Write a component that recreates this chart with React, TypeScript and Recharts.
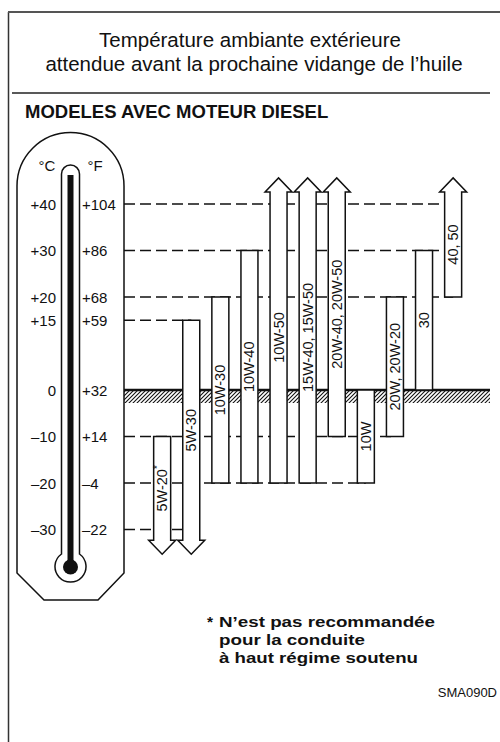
import { Bar, ComposedChart, ReferenceArea, ReferenceLine, XAxis, YAxis } from 'recharts';

// oil grades, left to right
const GRADES = [
  '5W-20*',
  '5W-30',
  '10W-30',
  '10W-40',
  '10W-50',
  '15W-40, 15W-50',
  '20W-40, 20W-50',
  '10W',
  '20W, 20W-20',
  '30',
  '40, 50',
];
// temperature range in °C, null = open ended (arrow)
const LOW_C: (number | null)[] = [null, null, -20, -20, -20, -20, -10, -20, -10, 0, 20];
const HIGH_C: (number | null)[] = [-10, 15, 20, 30, null, null, null, 0, 20, 30, null];

const C_TICKS = [40, 30, 20, 15, 0, -10, -20, -30];
const C_LABELS = ['+40', '+30', '+20', '+15', '0', '\u201310', '\u201320', '\u201330'];
const F_LABELS = ['+104', '+86', '+68', '+59', '+32', '+14', '\u20134', '\u201322'];

// dashed guides and the grade where each one stops
const GUIDE_C = [40, 30, 20, 15, -10, -20, -30];
const GUIDE_STOP = ['40, 50', '40, 50', '40, 50', '5W-30', '20W, 20W-20', '10W', '5W-30'];

const FONT = '"Liberation Sans", Arial, Helvetica, sans-serif';
const OPEN_LOW = -32.3;
const OPEN_HIGH = 42.6;
const X_MIN = -1.313;
const X_MAX = 11.265;
const MARGIN = { top: 157.5, right: 10, bottom: 166, left: 0 };

const rows = GRADES.map((grade, i) => ({
  idx: i,
  grade,
  range: [LOW_C[i] ?? OPEN_LOW, HIGH_C[i] ?? OPEN_HIGH],
  openLow: LOW_C[i] === null,
  openHigh: HIGH_C[i] === null,
}));

function GradeShape(props: any) {
  const { x, y, width, height } = props;
  const p = props.payload ?? props;
  const L = x;
  const R = x + width;
  const T = y;
  const B = y + height;
  const cx = x + width / 2;
  const o = 5;
  const ah = 14;
  const pts: [number, number][] = [];
  if (p.openHigh) {
    pts.push([L, T], [L - o, T], [cx, T - ah], [R + o, T], [R, T]);
  } else {
    pts.push([L, T], [R, T]);
  }
  if (p.openLow) {
    pts.push([R, B], [R + o, B], [cx, B + ah], [L - o, B], [L, B]);
  } else {
    pts.push([R, B], [L, B]);
  }
  const d = 'M' + pts.map((q) => q.join(',')).join(' L') + ' Z';
  const cy = (T + B) / 2;
  const star = p.grade.endsWith('*');
  const text = star ? p.grade.slice(0, -1) : p.grade;
  return (
    <g>
      <path d={d} fill="#fff" stroke="#111" strokeWidth={1.5} />
      <text
        x={cx}
        y={cy}
        transform={`rotate(-90 ${cx} ${cy})`}
        textAnchor="middle"
        dominantBaseline="central"
        fontSize={14.5}
        fontFamily={FONT}
        fill="#111"
      >
        {text}
        {star && (
          <tspan fontSize={10} dy={-5}>
            *
          </tspan>
        )}
      </text>
    </g>
  );
}

function ThermoTick(props: any) {
  const { y, payload } = props;
  const i = C_TICKS.indexOf(payload.value);
  return (
    <g fontFamily={FONT} fontSize={15} fill="#111">
      <text x={56} y={y} textAnchor="end" dominantBaseline="central">
        {C_LABELS[i]}
      </text>
      <text x={82} y={y} textAnchor="start" dominantBaseline="central">
        {F_LABELS[i]}
      </text>
    </g>
  );
}

function Backdrop() {
  return (
    <svg width={500} height={742} style={{ position: 'absolute', left: 0, top: 0 }}>
      <defs>
        <pattern id="hatch" patternUnits="userSpaceOnUse" width={4} height={4}>
          <path d="M-1,1 l2,-2 M0,4 l4,-4 M3,5 l2,-2" stroke="#111" strokeWidth={1.1} />
        </pattern>
      </defs>
      <rect x={0} y={0} width={500} height={742} fill="#fff" />
      <line x1={8.5} y1={12} x2={8.5} y2={742} stroke="#333" strokeWidth={1.5} />
      <line x1={8} y1={12} x2={500} y2={12} stroke="#555" strokeWidth={2} />
      <line x1={12} y1={93} x2={490} y2={93} stroke="#222" strokeWidth={1.5} />
      <g fontFamily={FONT} fill="#111">
        <text x={250} y={47} textAnchor="middle" fontSize={20.5}>
          Température ambiante extérieure
        </text>
        <text x={254} y={71} textAnchor="middle" fontSize={20.5}>
          attendue avant la prochaine vidange de l’huile
        </text>
        <text x={25} y={118} fontSize={18.5} fontWeight="bold">
          MODELES AVEC MOTEUR DIESEL
        </text>
        <text x={207} y={627} fontSize={15.5} fontWeight="bold">
          *
        </text>
        <text x={219} y={627} fontSize={15.5} fontWeight="bold" textLength={216} lengthAdjust="spacingAndGlyphs">
          N’est pas recommandée
        </text>
        <text x={219} y={645} fontSize={15.5} fontWeight="bold" textLength={146} lengthAdjust="spacingAndGlyphs">
          pour la conduite
        </text>
        <text x={219} y={663} fontSize={15.5} fontWeight="bold" textLength={199} lengthAdjust="spacingAndGlyphs">
          à haut régime soutenu
        </text>
        <text x={497} y={697} fontSize={13} textAnchor="end">
          SMA090D
        </text>
      </g>
      {/* thermometer */}
      <path
        d="M17,573 L17,186 A53.5,53.5 0 0 1 124,186 L124,573 L98,600 L44,600 Z"
        fill="#fff"
        stroke="#111"
        strokeWidth={1.5}
      />
      <path
        d="M61.5,554 L61.5,174 A9,9 0 0 1 79.5,174 L79.5,554 A15.5,15.5 0 1 1 61.5,554 Z"
        fill="#fff"
        stroke="#111"
        strokeWidth={1.5}
      />
      <rect x={67.5} y={175} width={6} height={390} fill="#111" />
      <circle cx={70.5} cy={567} r={7.5} fill="#111" />
      <g fontFamily={FONT} fontSize={15} fill="#111">
        <text x={47} y={165} textAnchor="middle" dominantBaseline="central">
          °C
        </text>
        <text x={95} y={165} textAnchor="middle" dominantBaseline="central">
          °F
        </text>
      </g>
    </svg>
  );
}

export default function App() {
  const layer = { position: 'absolute' as const, left: 0, top: 0 };
  return (
    <div style={{ position: 'absolute', left: 0, top: 0, width: 500, height: 742 }}>
      <Backdrop />
      {/* guides, ground and thermometer scale (behind the grades) */}
      <div style={layer}>
        <ComposedChart width={500} height={742} data={rows} margin={MARGIN}>
          <XAxis
            dataKey="idx"
            type="number"
            domain={[X_MIN, X_MAX]}
            ticks={rows.map((r) => r.idx)}
            allowDataOverflow
            hide
          />
          <YAxis
            type="number"
            domain={[-40, 50]}
            ticks={C_TICKS}
            interval={0}
            width={124}
            axisLine={false}
            tickLine={false}
            tick={(p: any) => <ThermoTick {...p} />}
            allowDataOverflow
          />
          <ReferenceArea y1={0} y2={-2.8} fill="url(#hatch)" fillOpacity={1} stroke="none" ifOverflow="visible" />
          {GUIDE_C.map((t, i) => (
            <ReferenceLine
              key={t}
              segment={[
                { x: X_MIN, y: t },
                { x: GRADES.indexOf(GUIDE_STOP[i]), y: t },
              ]}
              stroke="#111"
              strokeWidth={1.3}
              strokeDasharray="11 5"
              ifOverflow="visible"
            />
          ))}
          <ReferenceLine y={0} stroke="#111" strokeWidth={2.5} ifOverflow="visible" />
        </ComposedChart>
      </div>
      {/* grade bars */}
      <div style={layer}>
        <ComposedChart width={500} height={742} data={rows} margin={{ ...MARGIN, left: 124 }}>
          <XAxis
            dataKey="idx"
            type="number"
            domain={[X_MIN, X_MAX]}
            ticks={rows.map((r) => r.idx)}
            allowDataOverflow
            hide
          />
          <YAxis type="number" domain={[-40, 50]} allowDataOverflow hide />
          <Bar dataKey="range" barSize={17} shape={GradeShape} isAnimationActive={false} />
        </ComposedChart>
      </div>
    </div>
  );
}
